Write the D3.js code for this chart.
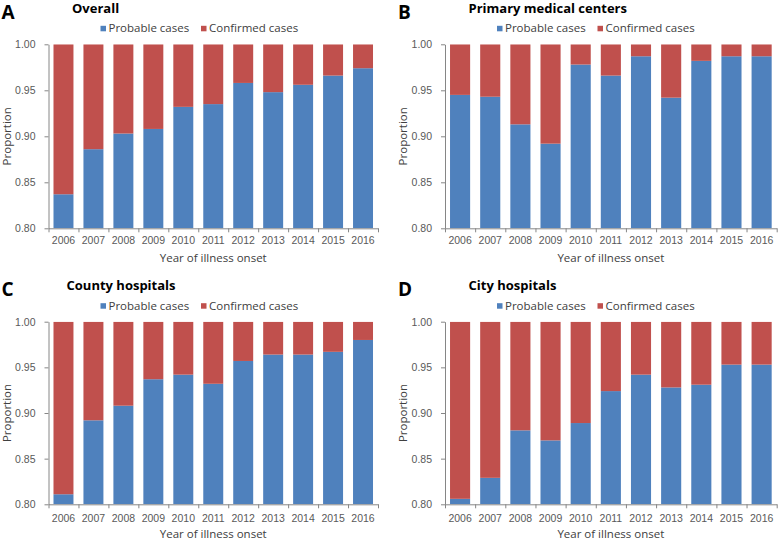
<!DOCTYPE html>
<html>
<head>
<meta charset="utf-8">
<script src="https://cdn.jsdelivr.net/npm/d3@7"></script>
<style>
  html, body { margin: 0; padding: 0; background: #fff; }
  svg { display: block; font-family: "Open Sans", "Noto Sans", sans-serif; }
</style>
</head>
<body>
<svg id="chart" width="778" height="540"></svg>
<script>
// ---- data ----
const years = ["2006","2007","2008","2009","2010","2011","2012","2013","2014","2015","2016"];
const yTicks = [0.80, 0.85, 0.90, 0.95, 1.00];
const seriesNames = ["Probable cases", "Confirmed cases"];

const probableOverall = [0.837, 0.886, 0.903, 0.908, 0.932, 0.935, 0.958, 0.948, 0.956, 0.966, 0.974];
const confirmedOverall = [0.163, 0.114, 0.097, 0.092, 0.068, 0.065, 0.042, 0.052, 0.044, 0.034, 0.026];

const probablePrimary = [0.945, 0.943, 0.913, 0.892, 0.978, 0.966, 0.987, 0.942, 0.982, 0.987, 0.987];
const confirmedPrimary = [0.055, 0.057, 0.087, 0.108, 0.022, 0.034, 0.013, 0.058, 0.018, 0.013, 0.013];

const probableCounty = [0.811, 0.892, 0.908, 0.937, 0.942, 0.932, 0.957, 0.964, 0.964, 0.967, 0.980];
const confirmedCounty = [0.189, 0.108, 0.092, 0.063, 0.058, 0.068, 0.043, 0.036, 0.036, 0.033, 0.020];

const probableCity = [0.806, 0.829, 0.881, 0.870, 0.889, 0.924, 0.942, 0.928, 0.931, 0.953, 0.953];
const confirmedCity = [0.194, 0.171, 0.119, 0.130, 0.111, 0.076, 0.058, 0.072, 0.069, 0.047, 0.047];

const panelLetters = ["A", "B", "C", "D"];
const panelTitles = ["Overall", "Primary medical centers", "County hospitals", "City hospitals"];
const yTitle = "Proportion";
const xTitle = "Year of illness onset";

// ---- layout / style ----
const colors = ["#4F81BD", "#C0504D"];
const axisColor = "#868686";
const labelColor = "#595959";

const panels = [
  { letter: panelLetters[0], title: panelTitles[0], probable: probableOverall, confirmed: confirmedOverall,
    left: 48.5, right: 378, top: 44.3, bottom: 228.3 },
  { letter: panelLetters[1], title: panelTitles[1], probable: probablePrimary, confirmed: confirmedPrimary,
    left: 445, right: 776.7, top: 44.3, bottom: 228.3 },
  { letter: panelLetters[2], title: panelTitles[2], probable: probableCounty, confirmed: confirmedCounty,
    left: 48.5, right: 378, top: 321.7, bottom: 504.3 },
  { letter: panelLetters[3], title: panelTitles[3], probable: probableCity, confirmed: confirmedCity,
    left: 445, right: 776.7, top: 321.7, bottom: 504.3 }
];

const svg = d3.select("#chart");

panels.forEach((p, pi) => {
  const g = svg.append("g");
  const x = d3.scaleBand().domain(years).range([p.left, p.right])
    .paddingInner(1/3).paddingOuter(1/6);
  const y = d3.scaleLinear().domain([0.8, 1.0]).range([p.bottom, p.top]);

  const rows = years.map((yr, i) => ({ year: yr, probable: p.probable[i], confirmed: p.confirmed[i] }));
  const stack = d3.stack().keys(["probable", "confirmed"]);
  const layers = stack(rows);

  const clipId = "clip" + pi;
  svg.append("clipPath").attr("id", clipId).append("rect")
    .attr("x", p.left).attr("y", p.top).attr("width", p.right - p.left).attr("height", p.bottom - p.top);

  g.append("g").attr("clip-path", `url(#${clipId})`)
    .selectAll("g.layer").data(layers).join("g")
    .attr("fill", (d, i) => colors[i])
    .selectAll("rect").data(d => d).join("rect")
    .attr("x", d => x(d.data.year))
    .attr("width", x.bandwidth())
    .attr("y", d => y(Math.min(d[1], 1)))
    .attr("height", d => Math.max(0, y(Math.max(d[0], 0.8)) - y(Math.min(d[1], 1))));

  // y axis
  const yAxis = g.append("g").attr("transform", `translate(${p.left},0)`)
    .call(d3.axisLeft(y).tickValues(yTicks).tickFormat(d3.format(".2f")).tickSize(4).tickSizeOuter(0).tickPadding(9));
  yAxis.select(".domain").attr("stroke", axisColor);
  yAxis.selectAll(".tick line").attr("stroke", axisColor);
  yAxis.selectAll("text").attr("fill", labelColor).style("font-size", "10.5px");

  // x axis boundary ticks
  const xb = d3.scaleLinear().domain([0, years.length]).range([p.left, p.right]);
  const xTickAxis = g.append("g").attr("transform", `translate(0,${p.bottom})`)
    .call(d3.axisBottom(xb).tickValues(d3.range(0, years.length + 1)).tickFormat("").tickSize(4).tickSizeOuter(0));
  xTickAxis.select(".domain").attr("stroke", axisColor);
  xTickAxis.selectAll(".tick line").attr("stroke", axisColor);

  // x labels
  const xLab = g.append("g").attr("transform", `translate(0,${p.bottom})`)
    .call(d3.axisBottom(x).tickSize(0).tickPadding(pi < 2 ? 8.5 : 10));
  xLab.select(".domain").remove();
  xLab.selectAll("text").attr("fill", labelColor).style("font-size", "10.5px");

  // axis titles
  g.append("text").attr("x", (p.left + p.right) / 2).attr("y", p.bottom + 34)
    .attr("text-anchor", "middle").attr("fill", "#404040").style("font-size", "11.5px").text(xTitle);
  g.append("text")
    .attr("transform", `translate(${p.left - 38},${(p.top + p.bottom) / 2}) rotate(-90)`)
    .attr("text-anchor", "middle").attr("fill", "#404040").style("font-size", "11.5px").text(yTitle);

  // panel letter and title
  const tOff = pi >= 2 ? 277 : 0;
  g.append("text").attr("x", p.left - 47).attr("y", tOff + 19)
    .style("font-size", "19px").style("font-weight", "bold").attr("fill", "#000").text(p.letter);
  g.append("text").attr("x", p.left + (pi === 2 ? 18 : 23.5)).attr("y", tOff + 12.5)
    .style("font-size", "13px").style("font-weight", "bold").attr("fill", "#000").text(p.title);

  // legend
  const legY = p.top - 16;
  const legX = [p.left + 52, p.left + 152.5];
  seriesNames.forEach((name, i) => {
    g.append("rect").attr("x", legX[i]).attr("y", legY - 2.5).attr("width", 5.5).attr("height", 5.5).attr("fill", colors[i]);
    g.append("text").attr("x", legX[i] + 8).attr("y", legY + 4)
      .attr("fill", "#404040").style("font-size", "11.5px").text(name);
  });
});
</script>
</body>
</html>
